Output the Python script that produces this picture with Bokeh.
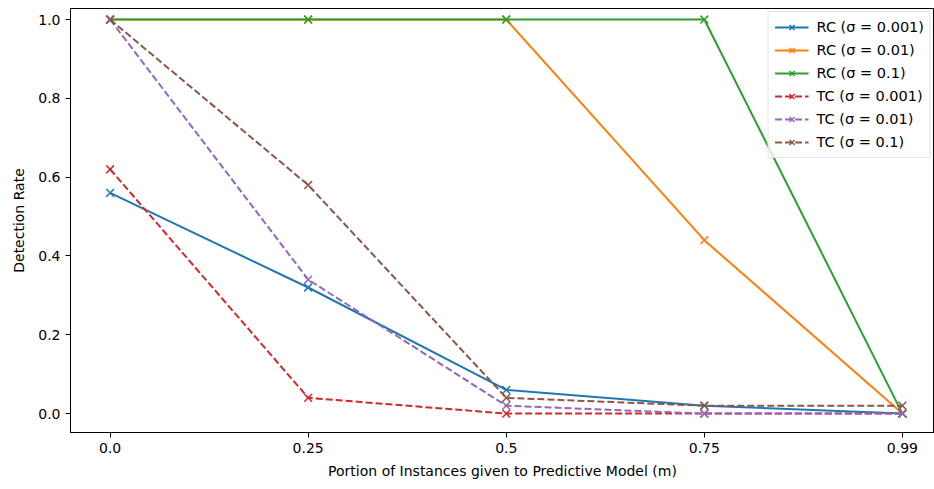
from bokeh.plotting import figure
from bokeh.models import Range1d, FixedTicker, Legend, LegendItem
from bokeh.embed import file_html
from bokeh.resources import INLINE

x_labels = ["0.0", "0.25", "0.5", "0.75", "0.99"]
x_pos = [0, 1, 2, 3, 4]

rc_0001 = [0.56, 0.32, 0.06, 0.02, 0.0]
rc_001 = [1.0, 1.0, 1.0, 0.44, 0.0]
rc_01 = [1.0, 1.0, 1.0, 1.0, 0.0]
tc_0001 = [0.62, 0.04, 0.0, 0.0, 0.0]
tc_001 = [1.0, 0.34, 0.02, 0.0, 0.0]
tc_01 = [1.0, 0.58, 0.04, 0.02, 0.02]

series = [
    ("RC (σ = 0.001)", rc_0001, "#1f77b4", "solid"),
    ("RC (σ = 0.01)", rc_001, "#ff7f0e", "solid"),
    ("RC (σ = 0.1)", rc_01, "#2ca02c", "solid"),
    ("TC (σ = 0.001)", tc_0001, "#d62728", "7 3"),
    ("TC (σ = 0.01)", tc_001, "#9467bd", "7 3"),
    ("TC (σ = 0.1)", tc_01, "#8c564b", "7 3"),
]

FONT = "DejaVu Sans"

p = figure(width=934, height=481, output_backend="svg", toolbar_location=None,
           x_range=Range1d(-0.2, 4.162), y_range=Range1d(-0.048, 1.028),
           min_border_left=70, min_border_right=0, min_border_top=8, min_border_bottom=0)
p.xgrid.visible = False
p.ygrid.visible = False
p.outline_line_color = "black"
p.outline_line_width = 1

items = []
for label, vals, color, dash in series:
    r1 = p.line(x_pos, vals, line_color=color, line_width=2, line_dash=dash)
    r2 = p.scatter(x_pos, vals, marker="x", size=11, line_color=color, line_width=1.5)
    items.append(LegendItem(label=label, renderers=[r1, r2]))

legend = Legend(items=items, location="top_right")
legend.label_text_font = FONT
legend.label_text_font_size = "14.5px"
legend.label_text_color = "black"
legend.label_height = 18
legend.glyph_height = 18
legend.glyph_width = 34
legend.spacing = 5
legend.padding = 6
legend.margin = 3
legend.label_standoff = 8
legend.border_line_color = "#cccccc"
legend.border_line_width = 1
legend.background_fill_alpha = 0.8
p.add_layout(legend)

p.xaxis.ticker = FixedTicker(ticks=x_pos)
p.xaxis.major_label_overrides = {i: l for i, l in zip(x_pos, x_labels)}
p.yaxis.ticker = FixedTicker(ticks=[0.0, 0.2, 0.4, 0.6, 0.8, 1.0])
p.yaxis.major_label_overrides = {0.0: "0.0", 0.2: "0.2", 0.4: "0.4", 0.6: "0.6", 0.8: "0.8", 1.0: "1.0"}

p.xaxis.axis_label = "Portion of Instances given to Predictive Model (m)"
p.yaxis.axis_label = "Detection Rate"
for ax in (p.xaxis, p.yaxis):
    ax.axis_label_text_font = FONT
    ax.axis_label_text_font_size = "14px"
    ax.axis_label_text_font_style = "normal"
    ax.axis_label_text_color = "black"
    ax.major_label_text_font = FONT
    ax.major_label_text_font_size = "14px"
    ax.major_label_text_color = "black"
    ax.axis_line_color = "black"
    ax.major_tick_line_color = "black"
    ax.major_tick_out = 5
    ax.major_tick_in = 0
    ax.minor_tick_line_color = None
p.xaxis.major_label_standoff = 5
p.yaxis.major_label_standoff = 5
p.xaxis.axis_label_standoff = 7
p.yaxis.axis_label_standoff = 8

open("out.html", "w").write(file_html(p, INLINE))
